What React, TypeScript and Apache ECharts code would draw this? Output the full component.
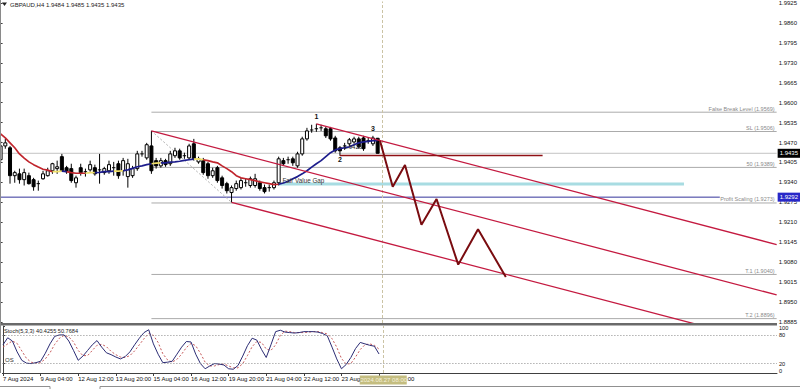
import React, { useEffect, useRef } from "react";
import * as echarts from "echarts";

const FONT = "'Liberation Sans', Arial, sans-serif";

// ---- axis ranges ----
const X_MIN = -0.127;
const X_MAX = 164.66;
const PRICE_MIN = 1.88817;
const PRICE_MAX = 1.99299;

const priceTicks = [1.9925, 1.986, 1.9795, 1.973, 1.9665, 1.96, 1.9535, 1.947, 1.9405, 1.934, 1.9275, 1.921, 1.9145, 1.908, 1.9015, 1.895, 1.8885];
const stochTicks = [0, 20, 80, 100];
const timeTickBars = [0, 8, 16, 24, 32, 40, 48, 56, 64, 72, 80];
const timeTickLabels = ["7 Aug 2024", "9 Aug 04:00", "12 Aug 12:00", "13 Aug 20:00", "15 Aug 04:00", "16 Aug 12:00", "19 Aug 20:00", "21 Aug 04:00", "22 Aug 12:00", "23 Aug 20:00", "27 Aug 04:00"];

// ---- candles (H4) ----
const opens = [1.9414, 1.9459, 1.9453, 1.9362, 1.9368, 1.9349, 1.9362, 1.9349, 1.9333, 1.9352, 1.9362, 1.9378, 1.9385, 1.9424, 1.9388, 1.9385, 1.9339, 1.9388, 1.9372, 1.9381, 1.9388, 1.9378, 1.9372, 1.9378, 1.9385, 1.9401, 1.9378, 1.9359, 1.9362, 1.9385, 1.9430, 1.9420, 1.9459, 1.9411, 1.9394, 1.9411, 1.9401, 1.9427, 1.9443, 1.9427, 1.9420, 1.9466, 1.9407, 1.9411, 1.9401, 1.9362, 1.9388, 1.9355, 1.9336, 1.9307, 1.9320, 1.9323, 1.9336, 1.9330, 1.9330, 1.9339, 1.9323, 1.9320, 1.9323, 1.9339, 1.9411, 1.9411, 1.9417, 1.9394, 1.9433, 1.9482, 1.9508, 1.9515, 1.9518, 1.9515, 1.9515, 1.9485, 1.9453, 1.9459, 1.9466, 1.9472, 1.9482, 1.9485, 1.9476, 1.9466, 1.9484];
const closes = [1.9459, 1.9469, 1.9362, 1.9372, 1.9349, 1.9372, 1.9336, 1.9326, 1.9336, 1.9368, 1.9378, 1.9401, 1.9391, 1.9378, 1.9375, 1.9346, 1.9355, 1.9372, 1.9375, 1.9398, 1.9368, 1.9381, 1.9385, 1.9398, 1.9388, 1.9362, 1.9411, 1.9401, 1.9385, 1.9433, 1.9433, 1.9463, 1.9378, 1.9394, 1.9411, 1.9398, 1.9433, 1.9443, 1.9420, 1.9424, 1.9459, 1.9417, 1.9417, 1.9372, 1.9362, 1.9378, 1.9346, 1.9330, 1.9313, 1.9323, 1.9336, 1.9346, 1.9339, 1.9352, 1.9352, 1.9320, 1.9310, 1.9323, 1.9339, 1.9417, 1.9401, 1.9414, 1.9404, 1.9433, 1.9482, 1.9508, 1.9511, 1.9514, 1.9515, 1.9492, 1.9482, 1.9443, 1.9443, 1.9456, 1.9479, 1.9482, 1.9456, 1.9450, 1.9475, 1.9485, 1.9435];
const lows = [1.9404, 1.9450, 1.9336, 1.9339, 1.9336, 1.9330, 1.9333, 1.9313, 1.9313, 1.9349, 1.9359, 1.9368, 1.9368, 1.9375, 1.9368, 1.9339, 1.9323, 1.9362, 1.9359, 1.9375, 1.9362, 1.9336, 1.9365, 1.9368, 1.9362, 1.9352, 1.9362, 1.9323, 1.9355, 1.9378, 1.9424, 1.9414, 1.9368, 1.9385, 1.9388, 1.9391, 1.9394, 1.9420, 1.9414, 1.9417, 1.9414, 1.9411, 1.9401, 1.9365, 1.9352, 1.9355, 1.9339, 1.9320, 1.9304, 1.9275, 1.9313, 1.9317, 1.9326, 1.9323, 1.9323, 1.9313, 1.9304, 1.9310, 1.9317, 1.9330, 1.9394, 1.9401, 1.9394, 1.9388, 1.9427, 1.9476, 1.9502, 1.9505, 1.9508, 1.9485, 1.9476, 1.9437, 1.9427, 1.9446, 1.9459, 1.9466, 1.9450, 1.9443, 1.9466, 1.9459, 1.9435];
const highs = [1.9476, 1.9482, 1.9459, 1.9378, 1.9385, 1.9385, 1.9372, 1.9355, 1.9346, 1.9378, 1.9388, 1.9404, 1.9411, 1.9433, 1.9394, 1.9401, 1.9362, 1.9401, 1.9385, 1.9411, 1.9398, 1.9433, 1.9391, 1.9411, 1.9407, 1.9411, 1.9420, 1.9417, 1.9394, 1.9443, 1.9443, 1.9469, 1.9508, 1.9420, 1.9420, 1.9417, 1.9443, 1.9453, 1.9450, 1.9437, 1.9466, 1.9482, 1.9424, 1.9420, 1.9407, 1.9388, 1.9394, 1.9362, 1.9342, 1.9330, 1.9346, 1.9355, 1.9352, 1.9359, 1.9368, 1.9346, 1.9333, 1.9333, 1.9346, 1.9424, 1.9420, 1.9424, 1.9424, 1.9440, 1.9489, 1.9518, 1.9528, 1.9531, 1.9528, 1.9521, 1.9521, 1.9492, 1.9459, 1.9469, 1.9485, 1.9489, 1.9489, 1.9492, 1.9485, 1.9492, 1.9485];

// ---- colored moving average ----
const maValues = [1.9498, 1.9485, 1.9469, 1.9453, 1.9433, 1.9419, 1.9407, 1.9398, 1.9390, 1.9383, 1.9380, 1.9375, 1.9375, 1.9377, 1.9375, 1.9372, 1.9370, 1.9370, 1.9370, 1.9372, 1.9372, 1.9373, 1.9375, 1.9375, 1.9377, 1.9377, 1.9378, 1.9381, 1.9386, 1.9391, 1.9394, 1.9398, 1.9401, 1.9403, 1.9404, 1.9404, 1.9406, 1.9407, 1.9409, 1.9412, 1.9414, 1.9416, 1.9417, 1.9414, 1.9411, 1.9407, 1.9404, 1.9394, 1.9385, 1.9375, 1.9362, 1.9355, 1.9352, 1.9349, 1.9346, 1.9342, 1.9339, 1.9336, 1.9333, 1.9334, 1.9338, 1.9344, 1.9352, 1.9359, 1.9368, 1.9378, 1.9390, 1.9401, 1.9411, 1.9424, 1.9437, 1.9446, 1.9450, 1.9453, 1.9456, 1.9463, 1.9469, 1.9472, 1.9474, 1.9476, 1.9476];
const maColorCodes = "rrrrrrrrrrryybrrrryybbbbyybbbbbbyybbbbbbbyyrrrrrrrrrrrrrrrrbbbbbbbbbbbbbbbbbbbbbb";

// ---- stochastic (5,3,3) ----
const stochMain = [60, 75, 68, 45, 27, 21, 20, 22, 25, 42, 62, 78, 81, 81, 68, 48, 27, 36, 48, 60, 69, 55, 43, 39, 34, 30, 35, 45, 60, 74, 86, 92, 62, 40, 22, 23, 25, 40, 55, 67, 66, 40, 20, 9, 15, 20, 19, 17, 9, 8, 16, 36, 58, 74, 70, 50, 33, 60, 88, 91, 87, 86, 85, 86, 88, 88, 88, 87, 84, 79, 55, 30, 9, 18, 33, 52, 65, 62, 59, 57, 40.4255];
const stochSignal = [55, 62, 68, 63, 47, 31, 23, 21, 22, 30, 43, 61, 74, 80, 77, 66, 48, 37, 37, 48, 59, 61, 56, 46, 39, 34, 33, 37, 47, 60, 73, 84, 80, 65, 41, 28, 23, 29, 40, 54, 63, 58, 42, 23, 15, 15, 18, 19, 15, 11, 11, 20, 37, 56, 67, 65, 51, 48, 60, 80, 89, 88, 86, 86, 86, 87, 88, 88, 86, 83, 73, 55, 31, 19, 20, 34, 50, 60, 62, 59, 50.7684];

// ---- price levels / objects ----
const bidPrice = 1.9435;
const markerPrice = 1.9292;
const markerEndBar = 152.6;

const fibStartBar = 32;
const fibLevels = [1.9569, 1.9506, 1.9389, 1.9273, 1.904, 1.8896];
const fibLabels = ["False Break Level (1.9569)", "SL (1.9506)", "50 (1.9389)", "Profit Scaling (1.9273)", "T.1 (1.9040)", "T.2 (1.8896)"];

const channelTop = [[67, 1.9531], [164.66, 1.91374]];
const channelMid = [[32, 1.9508], [164.66, 1.89734]];
const channelBot = [[49, 1.9275], [164.66, 1.88089]];
const fibDiagonal = [[32, 1.9508], [49, 1.9275]];
const projection = [[80.5, 1.9476], [83.2, 1.9326], [85.8, 1.9397], [89.3, 1.9202], [92.5, 1.9286], [97.1, 1.9072], [101.3, 1.9187], [107.2, 1.9032]];
const swingLevel = [[72, 1.9428], [115, 1.9428]];
const fvgZone = [59, 145, 1.934, 1.933];

const noteTexts = ["1", "2", "3", "1.9426", "Fair Value Gap"];
const noteBars = [67, 72, 79, 72.8, 59.8];
const notePrices = [1.9531, 1.9427, 1.9492, 1.9455, 1.934];

const cursorBar = 81;
const cursorLabel = "2024.08.27 08:00";
const headerText = "GBPAUD,H4 1.9484 1.9485 1.9435 1.9435";
const stochText = "Stoch(5,3,3) 40.4255 50.7684";

// ---- styles (kept apart from data) ----
const noteStyles = [
  { dy: -7, font: `bold 7px ${FONT}`, align: "center", vAlign: "middle", fill: "#111" },
  { dy: 4, font: `bold 7px ${FONT}`, align: "center", vAlign: "middle", fill: "#111" },
  { dy: -7, font: `bold 7px ${FONT}`, align: "center", vAlign: "middle", fill: "#111" },
  { dy: 0, font: `6px ${FONT}`, align: "left", vAlign: "middle", fill: "#222" },
  { dy: 1, font: `6.3px ${FONT}`, align: "left", vAlign: "bottom", fill: "#333" },
];
const maColorMap: Record<string, string> = { r: "#c0242c", b: "#1c1c8c", y: "#f0e06a" };
const priceTagColors = ["#000000", "#2828c8"];

function lineSeries(data: number[][], color: string, width: number, z: number, type: any = "solid") {
  return {
    type: "line",
    xAxisIndex: 0,
    yAxisIndex: 0,
    data,
    symbol: "none",
    silent: true,
    z,
    lineStyle: { color, width, type },
  };
}

export default function App() {
  const ref = useRef<HTMLDivElement>(null);
  useEffect(() => {
    if (!ref.current) return;
    const chart = echarts.init(ref.current, undefined, { renderer: "svg" });

    const candleData = opens.map((o, i) => [i, o, closes[i], lows[i], highs[i]]);

    const maSeries = ["r", "y", "b"].map((code) => ({
      type: "line",
      xAxisIndex: 0,
      yAxisIndex: 0,
      symbol: "none",
      silent: true,
      z: 4,
      connectNulls: false,
      lineStyle: { color: maColorMap[code], width: 1.7 },
      data: maValues.map((v, i) => {
        const on = maColorCodes[i] === code || (i > 0 && maColorCodes[i - 1] === code);
        return [i, on ? v : "-"];
      }),
    }));

    const option: any = {
      animation: false,
      backgroundColor: "#ffffff",
      textStyle: { fontFamily: FONT },
      grid: [
        { left: 0, top: 0, width: 777, height: 323 },
        { left: 0, top: 326, width: 777, height: 47 },
      ],
      xAxis: [
        { type: "value", gridIndex: 0, min: X_MIN, max: X_MAX, show: false },
        {
          type: "value",
          gridIndex: 1,
          min: X_MIN,
          max: X_MAX,
          axisLine: { show: true, lineStyle: { color: "#404040", width: 1 } },
          axisTick: { show: true, customValues: timeTickBars, length: 3, lineStyle: { color: "#404040" } },
          axisLabel: {
            customValues: timeTickBars,
            formatter: (v: number) => timeTickLabels[timeTickBars.indexOf(Math.round(v))] ?? "",
            fontSize: 6,
            color: "#111",
            align: "left",
            margin: 3,
            fontFamily: FONT,
          },
          splitLine: { show: false },
        },
      ],
      yAxis: [
        {
          type: "value",
          gridIndex: 0,
          position: "right",
          min: PRICE_MIN,
          max: PRICE_MAX,
          axisLine: { show: true, lineStyle: { color: "#404040", width: 1 } },
          axisTick: { show: true, customValues: priceTicks, length: 2, lineStyle: { color: "#404040" } },
          axisLabel: {
            customValues: priceTicks,
            formatter: (v: number) => v.toFixed(4),
            fontSize: 6,
            color: "#111",
            margin: 2,
            fontFamily: FONT,
          },
          splitLine: { show: false },
        },
        {
          type: "value",
          gridIndex: 1,
          position: "right",
          min: 0,
          max: 100,
          axisLine: { show: true, lineStyle: { color: "#404040", width: 1 } },
          axisTick: { show: true, customValues: stochTicks, length: 2, lineStyle: { color: "#404040" } },
          axisLabel: {
            customValues: stochTicks,
            formatter: (v: number) => (v >= 100 ? `{top|${v}}` : v <= 0 ? `{bot|${v}}` : `{mid|${v}}`),
            fontSize: 5.6,
            color: "#111",
            margin: 2,
            fontFamily: FONT,
            hideOverlap: false,
            rich: {
              top: { fontSize: 5.6, padding: [4, 0, 0, 0], fontFamily: FONT, color: "#111" },
              bot: { fontSize: 5.6, padding: [0, 0, 5, 0], fontFamily: FONT, color: "#111" },
              mid: { fontSize: 5.6, fontFamily: FONT, color: "#111" },
            },
          },
          splitLine: { show: false },
        },
      ],
      series: [
        // fair value gap zone
        {
          type: "custom",
          xAxisIndex: 0,
          yAxisIndex: 0,
          silent: true,
          z: 1,
          data: [fvgZone],
          encode: { x: [0, 1], y: [2, 3] },
          renderItem: (params: any, api: any) => {
            const a = api.coord([api.value(0), api.value(2)]);
            const b = api.coord([api.value(1), api.value(3)]);
            return {
              type: "rect",
              shape: { x: a[0], y: a[1], width: b[0] - a[0], height: b[1] - a[1] },
              style: { fill: "#a8dce2" },
            };
          },
        },
        // bid line + cursor line
        {
          ...lineSeries([[X_MIN, bidPrice], [X_MAX, bidPrice]], "#c4c4c4", 1, 1),
          markLine: {
            silent: true,
            symbol: "none",
            label: { show: false },
            lineStyle: { color: "#cbc3a4", type: [3, 2], width: 1 },
            data: [{ xAxis: cursorBar }],
          },
        },
        // blue marker line
        lineSeries([[X_MIN, markerPrice], [markerEndBar, markerPrice]], "#34349a", 1, 1),
        // fib levels with labels
        {
          type: "custom",
          xAxisIndex: 0,
          yAxisIndex: 0,
          silent: true,
          z: 1,
          data: fibLevels.map((l) => [fibStartBar, l]),
          encode: { x: 0, y: 1 },
          renderItem: (params: any, api: any) => {
            const lvl = api.value(1);
            const p1 = api.coord([api.value(0), lvl]);
            const p2 = api.coord([X_MAX, lvl]);
            return {
              type: "group",
              children: [
                { type: "line", shape: { x1: p1[0], y1: p1[1], x2: p2[0], y2: p2[1] }, style: { stroke: "#ababab", lineWidth: 1 } },
                {
                  type: "text",
                  x: p2[0] - 2,
                  y: p2[1] - 0.5,
                  style: { text: fibLabels[params.dataIndex], fill: "#8a8a8a", font: `5.5px ${FONT}`, align: "right", verticalAlign: "bottom" },
                },
              ],
            };
          },
        },
        lineSeries(fibDiagonal, "#b0b0b0", 1, 1, [2, 2]),
        // candles
        {
          type: "custom",
          xAxisIndex: 0,
          yAxisIndex: 0,
          silent: true,
          z: 3,
          data: candleData,
          encode: { x: 0, y: [1, 2, 3, 4] },
          renderItem: (params: any, api: any) => {
            const i = api.value(0);
            const o = api.value(1);
            const c = api.value(2);
            const pO = api.coord([i, o]);
            const pC = api.coord([i, c]);
            const pL = api.coord([i, api.value(3)]);
            const pH = api.coord([i, api.value(4)]);
            const x = pO[0];
            const top = Math.min(pO[1], pC[1]);
            const bot = Math.max(pO[1], pC[1]);
            const children: any[] = [
              { type: "line", shape: { x1: x, y1: pH[1], x2: x, y2: pL[1] }, style: { stroke: "#000", lineWidth: 1 } },
            ];
            if (bot - top < 1) {
              children.push({ type: "line", shape: { x1: x - 1.7, y1: top, x2: x + 1.7, y2: top }, style: { stroke: "#000", lineWidth: 1 } });
            } else {
              children.push({
                type: "rect",
                shape: { x: x - 1.5, y: top, width: 3, height: bot - top },
                style: { fill: c >= o ? "#ffffff" : "#000000", stroke: "#000", lineWidth: 1 },
              });
            }
            return { type: "group", children };
          },
        },
        ...maSeries,
        // channel lines
        lineSeries(channelTop, "#c41a40", 1.3, 5),
        lineSeries(channelMid, "#c41a40", 1.3, 5),
        lineSeries(channelBot, "#c41a40", 1.3, 5),
        lineSeries(swingLevel, "#8e1014", 1.4, 5),
        lineSeries(projection, "#7a0c10", 2, 6),
        // annotations
        {
          type: "custom",
          xAxisIndex: 0,
          yAxisIndex: 0,
          silent: true,
          z: 7,
          data: noteBars.map((b, i) => [b, notePrices[i]]),
          encode: { x: 0, y: 1 },
          renderItem: (params: any, api: any) => {
            const s = noteStyles[params.dataIndex];
            const p = api.coord([api.value(0), api.value(1)]);
            return {
              type: "text",
              x: p[0],
              y: p[1] + s.dy,
              style: { text: noteTexts[params.dataIndex], font: s.font, fill: s.fill, align: s.align, verticalAlign: s.vAlign },
            };
          },
        },
        // price tags on the axis
        {
          type: "custom",
          xAxisIndex: 0,
          yAxisIndex: 0,
          silent: true,
          clip: false,
          z: 8,
          data: [[X_MAX, bidPrice], [X_MAX, markerPrice]],
          encode: { x: 0, y: 1 },
          renderItem: (params: any, api: any) => {
            const p = api.coord([api.value(0), api.value(1)]);
            return {
              type: "group",
              children: [
                { type: "rect", shape: { x: p[0] + 1, y: p[1] - 4.5, width: 23, height: 9 }, style: { fill: priceTagColors[params.dataIndex] } },
                {
                  type: "text",
                  x: p[0] + 3,
                  y: p[1],
                  style: { text: api.value(1).toFixed(4), fill: "#ffffff", font: `6px ${FONT}`, align: "left", verticalAlign: "middle" },
                },
              ],
            };
          },
        },
        // stochastic
        {
          type: "line",
          xAxisIndex: 1,
          yAxisIndex: 1,
          symbol: "none",
          silent: true,
          z: 3,
          data: stochSignal.map((v, i) => [i, v]),
          lineStyle: { color: "#c65a5a", width: 1, type: [2, 2] },
          markLine: {
            silent: true,
            symbol: "none",
            label: { show: false },
            data: [
              { yAxis: 80, lineStyle: { color: "#8a8a8a", type: [1, 2], width: 1 } },
              { yAxis: 20, lineStyle: { color: "#8a8a8a", type: [1, 2], width: 1 } },
              { xAxis: cursorBar, lineStyle: { color: "#cbc3a4", type: [3, 2], width: 1 } },
            ],
          },
        },
        {
          type: "line",
          xAxisIndex: 1,
          yAxisIndex: 1,
          symbol: "none",
          silent: true,
          z: 4,
          data: stochMain.map((v, i) => [i, v]),
          lineStyle: { color: "#2c2c74", width: 1 },
        },
        // cursor time tag
        {
          type: "custom",
          xAxisIndex: 1,
          yAxisIndex: 1,
          silent: true,
          clip: false,
          z: 9,
          data: [[cursorBar, 0]],
          encode: { x: 0, y: 1 },
          renderItem: (params: any, api: any) => {
            const p = api.coord([api.value(0), api.value(1)]);
            return {
              type: "group",
              children: [
                { type: "rect", shape: { x: p[0] - 24, y: p[1] + 2.5, width: 47, height: 9 }, style: { fill: "#c4bd80" } },
                {
                  type: "text",
                  x: p[0],
                  y: p[1] + 7,
                  style: { text: cursorLabel, fill: "#f6f2dc", font: `6px ${FONT}`, align: "center", verticalAlign: "middle" },
                },
              ],
            };
          },
        },
      ],
      graphic: [
        { type: "rect", z: 20, shape: { x: 0, y: 323, width: 777, height: 2.5 }, style: { fill: "#6a6a6a" } },
        { type: "line", z: 20, shape: { x1: 0.5, y1: 0, x2: 0.5, y2: 373 }, style: { stroke: "#8a8a8a", lineWidth: 1 } },
        { type: "polygon", z: 20, shape: { points: [[2, 2.5], [7, 2.5], [4.5, 6]] }, style: { fill: "#222" } },
        { type: "text", z: 20, x: 10, y: 4.5, style: { text: headerText, font: `6px ${FONT}`, fill: "#1a1a1a", verticalAlign: "middle" } },
        { type: "text", z: 20, x: 4, y: 330.5, style: { text: stochText, font: `5.6px ${FONT}`, fill: "#1a1a1a", verticalAlign: "middle" } },
        { type: "text", z: 20, x: 5, y: 360, style: { text: "OS", font: `6px ${FONT}`, fill: "#333", verticalAlign: "middle" } },
        { type: "polyline", z: 20, shape: { points: [[0, 386.5], [50, 386.5], [50, 389]] }, style: { stroke: "#909090", lineWidth: 1, fill: "none" } },
        { type: "polyline", z: 20, shape: { points: [[100, 389], [100, 386.5], [800, 386.5]] }, style: { stroke: "#909090", lineWidth: 1, fill: "none" } },
      ],
    };

    chart.setOption(option);
    return () => chart.dispose();
  }, []);

  return (
    <div
      ref={ref}
      style={{ position: "fixed", left: 0, top: 0, width: 800, height: 389, background: "#ffffff" }}
    />
  );
}
